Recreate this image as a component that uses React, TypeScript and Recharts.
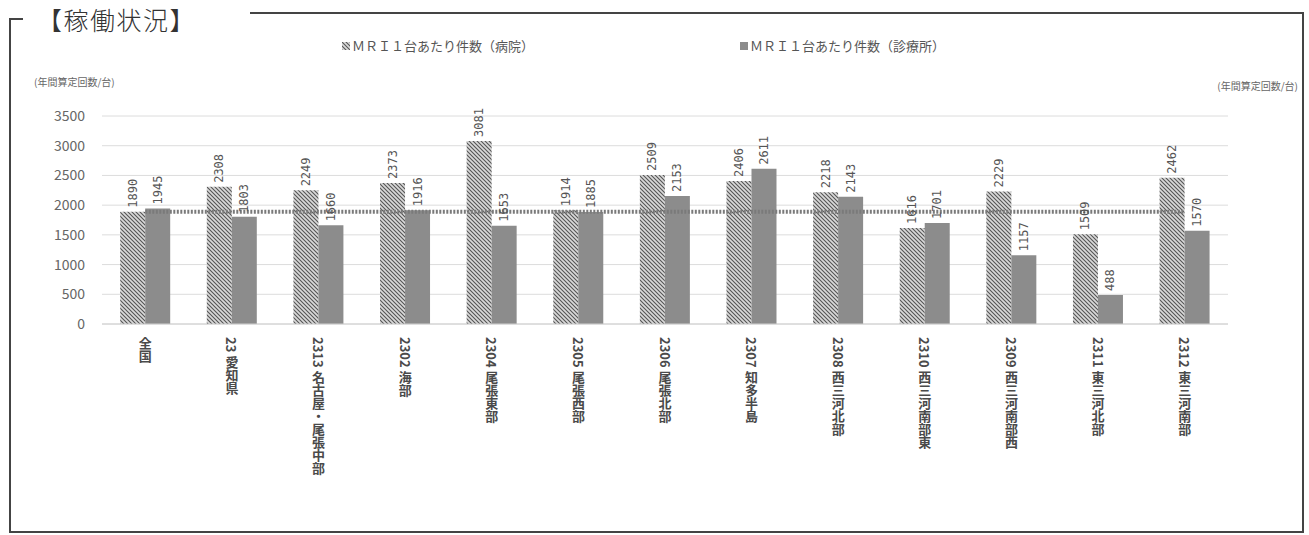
import React from 'react';
import {
  BarChart,
  Bar,
  XAxis,
  YAxis,
  CartesianGrid,
  ReferenceLine,
  LabelList,
} from 'recharts';

const categories = [
  '全国',
  '23 愛知県',
  '2313 名古屋・尾張中部',
  '2302 海部',
  '2304 尾張東部',
  '2305 尾張西部',
  '2306 尾張北部',
  '2307 知多半島',
  '2308 西三河北部',
  '2310 西三河南部東',
  '2309 西三河南部西',
  '2311 東三河北部',
  '2312 東三河南部',
];
const hospitalValues = [1890, 2308, 2249, 2373, 3081, 1914, 2509, 2406, 2218, 1616, 2229, 1509, 2462];
const clinicValues = [1945, 1803, 1660, 1916, 1653, 1885, 2153, 2611, 2143, 1701, 1157, 488, 1570];
const yTicks = [0, 500, 1000, 1500, 2000, 2500, 3000, 3500];
const referenceValue = 1890;

const title = '【稼働状況】';
const hospitalLegend = 'ＭＲＩ１台あたり件数（病院）';
const clinicLegend = 'ＭＲＩ１台あたり件数（診療所）';
const unitLabel = '(年間算定回数/台)';

const data = categories.map((name, i) => ({
  name,
  hospital: hospitalValues[i],
  clinic: clinicValues[i],
}));

const FONT = '"Noto Sans CJK JP", "Noto Sans", sans-serif';

const XTick = (props: any) => {
  const { x, y, payload } = props;
  return (
    <text
      x={x}
      y={Number(y) + 5}
      style={{ writingMode: 'vertical-rl' as any }}
      textAnchor="start"
      fontSize={13}
      fontWeight={600}
      fill="#4a4a4a"
      fontFamily={FONT}
    >
      {payload.value}
    </text>
  );
};

const renderValueLabel = (props: any) => {
  const { x, y, width, value } = props;
  const cx = Number(x) + Number(width) / 2;
  const ty = Number(y) - 4;
  return (
    <text
      x={cx}
      y={ty}
      transform={`rotate(-90 ${cx} ${ty})`}
      textAnchor="start"
      dominantBaseline="central"
      fontSize={12}
      fill="#555"
      fontFamily='"DejaVu Sans Mono", monospace'
    >
      {value}
    </text>
  );
};

export default function App() {
  return (
    <div style={{ position: 'absolute', left: 0, top: 0, width: 1309, height: 535, background: '#fff' }}>
      <svg width={0} height={0} style={{ position: 'absolute' }}>
        <defs>
          <pattern id="hatch" patternUnits="userSpaceOnUse" width={4} height={4}>
            <rect width={4} height={4} fill="#d9d9d9" />
            <path d="M-1,-1 L5,5 M-1,3 L1,5 M3,-1 L5,1" stroke="#555" strokeWidth={1.1} />
          </pattern>
        </defs>
      </svg>
      <svg
        width={1309}
        height={535}
        style={{ position: 'absolute', left: 0, top: 0, pointerEvents: 'none' }}
      >
        {/* frame */}
        <path d="M10,19 L23,19 M10,18 L10,532 L1303,532 L1303,13 L250,13" fill="none" stroke="#444" strokeWidth={2} />
        <text x={37} y={30} fontSize={25} fontWeight={300} fill="#333" fontFamily={FONT} letterSpacing={1.5}>
          {title}
        </text>
        {/* legend */}
        <rect x={342} y={42} width={8} height={8} fill="url(#hatch)" />
        <text x={352} y={51} fontSize={13} fill="#555" fontFamily={FONT}>
          {hospitalLegend}
        </text>
        <rect x={740} y={42} width={8} height={8} fill="#8c8c8c" />
        <text x={750} y={51} fontSize={13} fill="#555" fontFamily={FONT}>
          {clinicLegend}
        </text>
        {/* unit labels */}
        <text x={34} y={86} fontSize={10} fill="#666" fontFamily={FONT}>
          {unitLabel}
        </text>
        <text x={1298} y={90} fontSize={10} fill="#666" textAnchor="end" fontFamily={FONT}>
          {unitLabel}
        </text>
      </svg>
      <div style={{ position: 'absolute', left: 0, top: 0 }}>
        <BarChart
          width={1309}
          height={535}
          data={data}
          margin={{ top: 116, right: 21, left: 42, bottom: 11 }}
          barCategoryGap="21%"
          barGap={0}
        >
          <CartesianGrid yAxisId="left" vertical={false} stroke="#dcdcdc" />
          <XAxis
            dataKey="name"
            interval={0}
            tickLine={false}
            axisLine={{ stroke: '#d0d0d0' }}
            height={200}
            tick={<XTick />}
          />
          <YAxis
            yAxisId="left"
            orientation="left"
            width={60}
            domain={[0, 3500]}
            ticks={yTicks}
            tickLine={false}
            axisLine={false}
            tickSize={0}
            tickMargin={17}
            tick={{ fontSize: 14, fill: '#666', fontFamily: FONT }}
          />
          <YAxis
            yAxisId="right"
            orientation="right"
            width={60}
            domain={[0, 3500]}
            ticks={yTicks}
            tickLine={false}
            axisLine={false}
            tickSize={0}
            tickMargin={12}
            tick={{ fontSize: 14, fill: '#666', fontFamily: FONT }}
          />
          <Bar yAxisId="left" dataKey="hospital" fill="url(#hatch)" isAnimationActive={false}>
            <LabelList dataKey="hospital" content={renderValueLabel} />
          </Bar>
          <Bar yAxisId="left" dataKey="clinic" fill="#8c8c8c" isAnimationActive={false}>
            <LabelList dataKey="clinic" content={renderValueLabel} />
          </Bar>
          <ReferenceLine
            yAxisId="left"
            segment={[
              { x: categories[0], y: referenceValue },
              { x: categories[categories.length - 1], y: referenceValue },
            ]}
            stroke="#7a7a7a"
            strokeWidth={4}
            strokeDasharray="2 1.5"
          />
        </BarChart>
      </div>
    </div>
  );
}
